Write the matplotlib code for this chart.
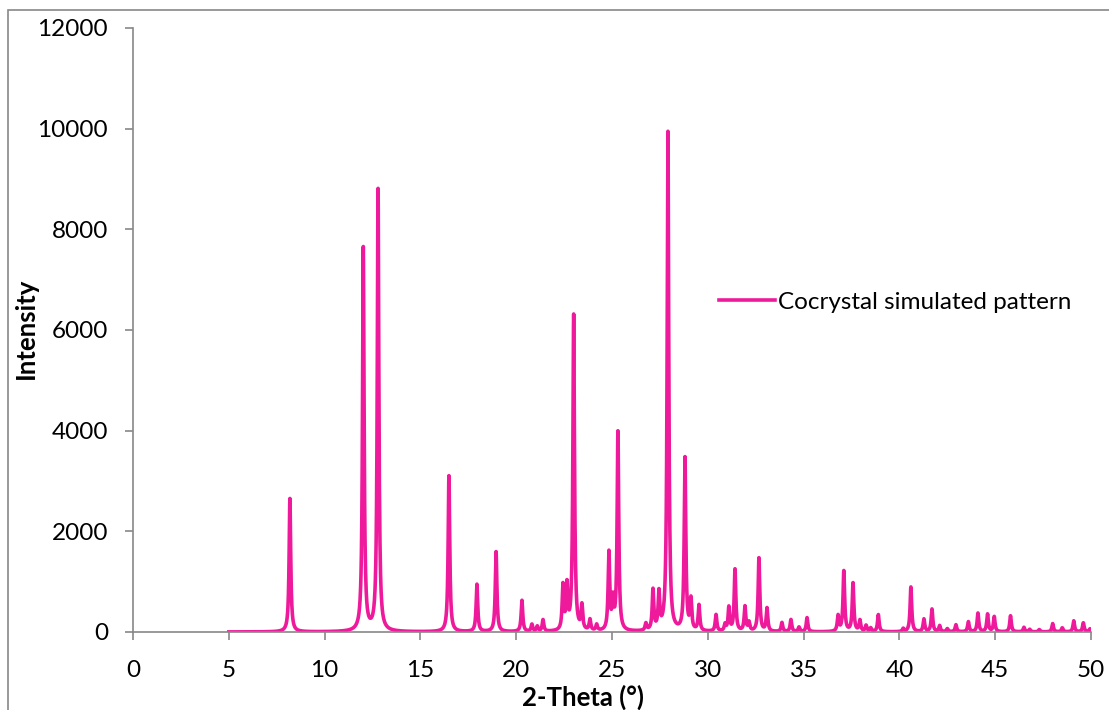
import numpy as np
import matplotlib.pyplot as plt
from matplotlib.patches import Rectangle

# peak list (2-theta, intensity)
peak_pos = [8.19, 12.02, 12.79, 16.49, 17.95, 18.95, 20.30, 20.82, 21.10, 21.40,
            22.44, 22.65, 23.00, 23.43, 23.85, 24.20, 24.84, 25.05, 25.31, 26.77,
            27.14, 27.45, 27.92, 28.81, 29.12, 29.54, 30.43, 30.90, 31.10, 31.42,
            31.94, 32.15, 32.67, 33.09, 33.87, 34.34, 34.76, 35.18, 36.80, 37.10,
            37.58, 37.94, 38.26, 38.50, 38.90, 40.20, 40.60, 41.28, 41.70, 42.10,
            42.50, 42.95, 43.60, 44.10, 44.60, 44.95, 45.80, 46.50, 46.80, 47.30,
            48.00, 48.50, 49.10, 49.60, 49.95]
peak_int = [2650, 7620, 8780, 3100, 940, 1590, 620, 140, 100, 230,
            880, 860, 6280, 480, 220, 120, 1540, 560, 3950, 140,
            800, 720, 9920, 3430, 600, 510, 330, 130, 470, 1230,
            490, 170, 1460, 460, 180, 240, 90, 280, 310, 1200,
            960, 220, 120, 70, 340, 60, 890, 250, 450, 120,
            60, 140, 200, 370, 350, 300, 320, 90, 50, 45,
            165, 80, 220, 180, 60]
fwhm = 0.1

two_theta = np.arange(5, 50.001, 0.01)
intensity = np.zeros_like(two_theta)
for p, h in zip(peak_pos, peak_int):
    intensity += h / (1 + (2 * (two_theta - p) / fwhm) ** 2)

plt.rcParams['font.family'] = ['Lato', 'DejaVu Sans']

fig = plt.figure(figsize=(11.09, 7.10), dpi=100)
ax = fig.add_axes([133 / 1109, 1 - 632 / 710, (1091 - 133) / 1109, (632 - 28) / 710])

ax.plot(two_theta, intensity, color='#EE1A9B', lw=2.6, label='Cocrystal simulated pattern')

ax.set_xlim(0, 50)
ax.set_ylim(0, 12000)
ax.set_xticks(range(0, 51, 5))
ax.set_yticks(range(0, 12001, 2000))
ax.tick_params(labelsize=17.5, color='#888888', length=6, width=1.2)
ax.tick_params(axis='x', pad=14)
ax.tick_params(axis='y', pad=12)
for s in ['top', 'right']:
    ax.spines[s].set_visible(False)
for s in ['left', 'bottom']:
    ax.spines[s].set_color('#888888')
    ax.spines[s].set_linewidth(1.2)

ax.set_xlabel('2-Theta (°)', fontsize=18.5, fontweight='bold')
ax.xaxis.set_label_coords(0.470, -0.087)
ax.set_ylabel('Intensity', fontsize=18.5, fontweight='bold')
ax.yaxis.set_label_coords(-0.099, 0.502)

ax.legend(loc='center left', bbox_to_anchor=(0.612, 0.546), frameon=False,
          fontsize=17.5, handlelength=2.3, handletextpad=0.1,
          borderpad=0, borderaxespad=0)

# outer chart-area border (only left and top are visible)
fig.patches.append(Rectangle((8 / 1109, -0.1), 1.2, 0.1 + 700 / 710,
                             transform=fig.transFigure, fill=False,
                             edgecolor='#888888', lw=1.2))

fig.savefig('out.png', dpi=100)
